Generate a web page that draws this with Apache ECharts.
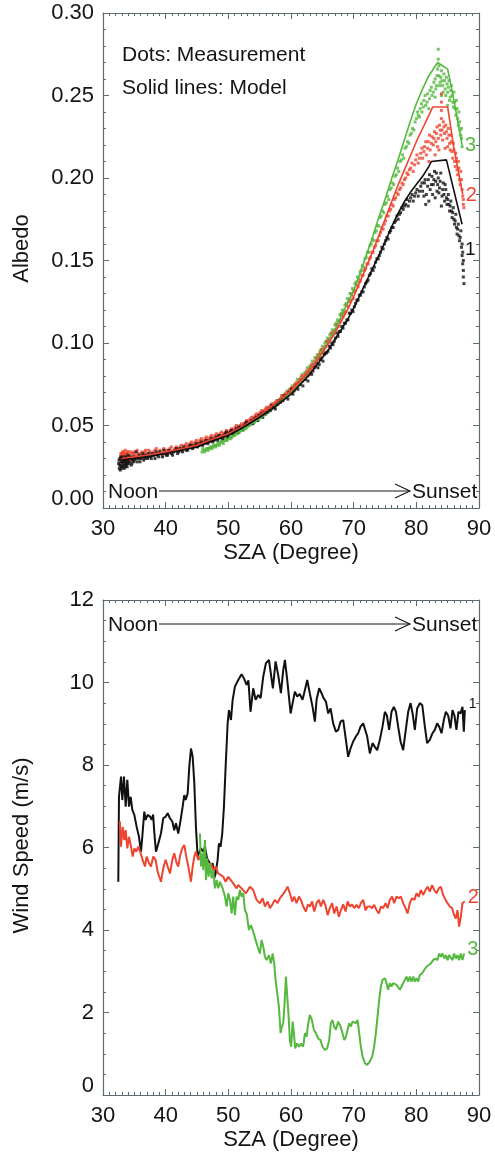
<!DOCTYPE html>
<html>
<head>
<meta charset="utf-8">
<script src="https://cdn.jsdelivr.net/npm/echarts@6/dist/echarts.min.js"></script>
<style>
  html, body { margin: 0; padding: 0; background: #ffffff; }
  #chart { width: 495px; height: 1160px; }
</style>
</head>
<body>
<div id="chart"></div>
<script>
// ---- Axis extents and tick steps ----
const SZA_MIN = 30, SZA_MAX = 90, SZA_STEP = 10;
const ALBEDO_MIN = 0, ALBEDO_MAX = 0.30, ALBEDO_STEP = 0.05;
const WIND_MIN = 0, WIND_MAX = 12, WIND_STEP = 2;

// ---- Text ----
const xTitle = 'SZA (Degree)';
const albedoTitle = 'Albedo';
const windTitle = 'Wind Speed (m/s)';
const noteDots = 'Dots: Measurement';
const noteLines = 'Solid lines: Model';
const dayStart = 'Noon';
const dayEnd = 'Sunset';
const siteNames = ['1', '2', '3'];

// ---- Albedo, measurement dots [SZA, albedo] ----
const albedoDots1 = [
  [32.5,0.027],[32.6,0.024],[32.7,0.030],[32.8,0.026],[32.9,0.028],[33.0,0.025],[33.1,0.031],[33.2,0.027],
  [33.3,0.029],[33.4,0.024],[33.5,0.028],[33.6,0.031],[33.7,0.026],[33.8,0.029],[33.9,0.027],[34.0,0.032],
  [34.2,0.028],[34.4,0.030],[34.6,0.027],[34.8,0.031],[35.0,0.029],[35.3,0.034],[35.6,0.030],[35.9,0.028],
  [36.2,0.031],[36.5,0.029],[36.8,0.032],[37.1,0.030],[37.5,0.031],[37.9,0.033],[38.3,0.030],[38.7,0.032],
  [39.1,0.034],[39.5,0.031],[39.9,0.033],[40.3,0.032],[40.7,0.034],[41.1,0.032],[41.5,0.035],[41.9,0.033],
  [42.3,0.036],[42.7,0.034],[43.1,0.036],[43.5,0.035],[43.9,0.038],[44.3,0.036],[44.7,0.038],[45.1,0.037],
  [45.5,0.039],[45.9,0.038],[46.3,0.040],[46.7,0.039],[47.1,0.041],[47.5,0.040],[47.9,0.042],[48.3,0.041],
  [48.7,0.043],[49.1,0.042],[49.5,0.045],[49.9,0.043],[50.3,0.046],[50.7,0.045],[51.1,0.047],[51.5,0.046],
  [51.9,0.049],[52.3,0.048],[52.7,0.051],[53.1,0.050],[53.5,0.052],[53.9,0.051],[54.3,0.054],[54.7,0.053],
  [55.1,0.056],[55.5,0.055],[55.9,0.057],[56.3,0.058],[56.7,0.059],[57.1,0.061],[57.5,0.060],[57.9,0.063],
  [58.3,0.064],[58.7,0.065],[59.1,0.067],[59.5,0.066],[59.9,0.070],[60.3,0.069],[60.7,0.073],[61.1,0.072],
  [61.5,0.075],[61.9,0.074],[62.3,0.078],[62.7,0.077],[63.1,0.082],[63.5,0.083],[63.9,0.086],[64.3,0.085],
  [64.7,0.090],[65.1,0.089],[65.5,0.094],[65.9,0.095],[66.3,0.097],[66.7,0.099],[67.1,0.103],[67.5,0.104],
  [67.9,0.107],[68.3,0.109],[68.7,0.112],[69.1,0.114],[69.5,0.118],[69.9,0.119],[70.3,0.124],[70.7,0.126],
  [71.1,0.129],[71.5,0.131],[71.9,0.136],[72.3,0.138],[72.7,0.142],[73.1,0.144],[73.5,0.149],[73.9,0.151],
  [74.3,0.155],[74.7,0.157],[75.1,0.162],[75.5,0.163],[75.9,0.168],[76.3,0.170],[76.7,0.174],[77.1,0.175],
  [77.5,0.179],[77.9,0.181],[78.3,0.184],[78.7,0.183],[79.1,0.188],[79.5,0.186],[79.9,0.191],[80.3,0.189],
  [80.7,0.195],[81.0,0.192],[81.3,0.197],[81.5,0.184],[81.6,0.190],[81.9,0.199],[82.0,0.186],[82.2,0.193],
  [82.5,0.201],[82.6,0.190],[82.7,0.196],[82.9,0.204],[83.0,0.188],[83.1,0.198],[83.3,0.192],[83.5,0.200],
  [83.7,0.194],[83.9,0.203],[84.0,0.183],[84.1,0.189],[84.3,0.197],[84.5,0.186],[84.7,0.193],[84.9,0.184],
  [85.1,0.190],[85.3,0.180],[85.5,0.186],[85.7,0.176],[85.9,0.182],[86.1,0.172],[86.3,0.178],[86.5,0.166],
  [86.7,0.172],[86.9,0.162],[87.1,0.168],[87.2,0.158],[87.3,0.153],[87.4,0.148],[87.5,0.144],[87.5,0.140],
  [87.6,0.136],
  [32.55,0.029],[32.65,0.026],[32.75,0.023],[32.85,0.031],[32.95,0.024],[33.05,0.028],[33.15,0.025],[33.25,0.030],
  [33.35,0.026],[33.45,0.029],[33.55,0.025],[33.65,0.027],[33.75,0.030],[33.85,0.025],[33.95,0.029],[34.1,0.027],
  [34.3,0.031],[34.5,0.026],[34.7,0.029],[34.9,0.028],[35.15,0.030],[35.45,0.028],[35.75,0.032],[36.05,0.030],
  [36.35,0.033],[36.65,0.030],[36.95,0.031],[37.3,0.033],[37.7,0.030],[38.1,0.032],[38.5,0.034],[38.9,0.031],
  [39.3,0.033],[39.7,0.035],[40.1,0.032],[40.5,0.035],[40.9,0.033],[41.3,0.034],[41.7,0.036],[42.1,0.034],
  [42.5,0.035],[42.9,0.037],[43.3,0.035],[43.7,0.037],[44.1,0.038],[44.5,0.037],[44.9,0.039],[45.3,0.038],
  [45.7,0.040],[46.1,0.039],[46.5,0.041],[46.9,0.040],[47.3,0.042],[47.7,0.041],[48.1,0.043],[48.5,0.044],
  [48.9,0.043],[49.3,0.044],[49.7,0.046],[50.1,0.045],[50.5,0.047],[50.9,0.046],[51.3,0.048],[51.7,0.049],
  [52.1,0.048],[52.5,0.050],[52.9,0.052],[53.3,0.051],[53.7,0.053],[54.1,0.054],[54.5,0.055],[54.9,0.056],
  [55.3,0.057],[55.7,0.058],[56.1,0.058],[56.5,0.060],[56.9,0.062],[57.3,0.061],[57.7,0.063],[58.1,0.065],
  [58.5,0.066],[58.9,0.068],[59.3,0.068],[59.7,0.070],[60.1,0.072],[60.5,0.071],[60.9,0.074],[61.3,0.075],
  [61.7,0.077],[62.1,0.078],[62.5,0.080],[62.9,0.082],[63.3,0.081],[63.7,0.085],[64.1,0.088],[64.5,0.087],
  [64.9,0.091],[65.3,0.093],[65.7,0.094],[66.1,0.098],[66.5,0.100],[66.9,0.101],[67.3,0.106],[67.7,0.107],
  [68.1,0.110],[68.5,0.112],[68.9,0.114],[69.3,0.118],[69.7,0.120],[70.1,0.122],[70.5,0.126],[70.9,0.129],
  [71.3,0.131],[71.7,0.134],[72.1,0.137],[72.5,0.141],[72.9,0.145],[73.3,0.146],[73.7,0.151],[74.1,0.153],
  [74.5,0.158],[74.9,0.160],[75.3,0.164],[75.7,0.167],[76.1,0.170],[76.5,0.173],[76.9,0.177],[77.3,0.178],
  [77.7,0.182],[78.1,0.183],[78.5,0.187],[78.9,0.186],[79.3,0.190],[79.7,0.189],[80.1,0.193],[80.5,0.192],
  [80.9,0.197],[81.2,0.189],[81.4,0.199],[81.8,0.195],[82.1,0.202],[82.4,0.196],[82.8,0.199],[83.2,0.203],
  [83.4,0.196],[83.6,0.191],[83.8,0.198],[84.2,0.193],[84.4,0.190],[84.6,0.196],[84.8,0.188],[85.0,0.187],
  [85.2,0.184],[85.4,0.183],[85.6,0.180],[85.8,0.179],[86.0,0.175],[86.2,0.174],[86.4,0.170],[86.6,0.169],
  [86.8,0.165],[87.0,0.164],[87.3,0.160],[87.4,0.155],[87.5,0.150]
];
const albedoDots2 = [
  [32.8,0.031],[32.9,0.028],[33.0,0.033],[33.1,0.030],[33.2,0.034],[33.3,0.029],[33.4,0.032],[33.5,0.030],
  [33.6,0.033],[33.7,0.028],[33.8,0.031],[33.9,0.034],[34.0,0.030],[34.2,0.032],[34.4,0.029],[34.6,0.033],
  [34.8,0.031],[35.0,0.034],[35.3,0.031],[35.6,0.033],[35.9,0.030],[36.2,0.034],[36.5,0.032],[36.8,0.035],
  [37.1,0.031],[37.5,0.034],[37.9,0.032],[38.3,0.035],[38.7,0.033],[39.1,0.035],[39.5,0.032],[39.9,0.034],
  [40.3,0.033],[40.7,0.036],[41.1,0.034],[41.5,0.036],[41.9,0.035],[42.3,0.037],[42.7,0.036],[43.1,0.038],
  [43.5,0.037],[43.9,0.039],[44.3,0.038],[44.7,0.040],[45.1,0.039],[45.5,0.041],[45.9,0.040],[46.3,0.042],
  [46.7,0.041],[47.1,0.043],[47.5,0.042],[47.9,0.044],[48.3,0.043],[48.7,0.045],[49.1,0.044],[49.5,0.046],
  [49.9,0.045],[50.3,0.047],[50.7,0.046],[51.1,0.049],[51.5,0.048],[51.9,0.050],[52.3,0.049],[52.7,0.052],
  [53.1,0.051],[53.5,0.054],[53.9,0.053],[54.3,0.056],[54.7,0.055],[55.1,0.058],[55.5,0.057],[55.9,0.060],
  [56.3,0.059],[56.7,0.062],[57.1,0.061],[57.5,0.064],[57.9,0.063],[58.3,0.066],[58.7,0.066],[59.1,0.069],
  [59.5,0.068],[59.9,0.072],[60.3,0.071],[60.7,0.075],[61.1,0.074],[61.5,0.078],[61.9,0.077],[62.3,0.081],
  [62.7,0.080],[63.1,0.085],[63.5,0.086],[63.9,0.089],[64.3,0.090],[64.7,0.094],[65.1,0.094],[65.5,0.098],
  [65.9,0.100],[66.3,0.103],[66.7,0.105],[67.1,0.108],[67.5,0.110],[67.9,0.114],[68.3,0.116],[68.7,0.119],
  [69.1,0.122],[69.5,0.126],[69.9,0.127],[70.3,0.132],[70.7,0.134],[71.1,0.138],[71.5,0.141],[71.9,0.145],
  [72.3,0.148],[72.7,0.152],[73.1,0.155],[73.5,0.159],[73.9,0.162],[74.3,0.167],[74.7,0.169],[75.1,0.174],
  [75.5,0.177],[75.9,0.181],[76.3,0.183],[76.7,0.188],[77.1,0.190],[77.5,0.194],[77.9,0.196],[78.3,0.200],
  [78.7,0.202],[79.1,0.206],[79.5,0.204],[79.9,0.211],[80.3,0.209],[80.7,0.215],[81.0,0.212],[81.3,0.219],
  [81.6,0.214],[81.9,0.222],[82.0,0.210],[82.2,0.217],[82.5,0.225],[82.7,0.220],[82.9,0.228],[83.0,0.214],
  [83.1,0.222],[83.3,0.231],[83.5,0.224],[83.6,0.217],[83.7,0.232],[83.9,0.226],[84.0,0.236],[84.0,0.241],
  [84.0,0.246],[84.0,0.251],[84.1,0.229],[84.3,0.234],[84.5,0.227],[84.6,0.218],[84.7,0.232],[84.9,0.224],
  [85.1,0.230],[85.3,0.221],[85.5,0.226],[85.7,0.216],[85.9,0.221],[86.1,0.210],[86.3,0.215],[86.5,0.205],
  [86.7,0.210],[86.9,0.199],[87.1,0.204],[87.3,0.193],[87.5,0.187],[87.6,0.182],
  [32.85,0.033],[32.95,0.030],[33.05,0.029],[33.15,0.034],[33.25,0.031],[33.35,0.033],[33.45,0.030],[33.55,0.035],
  [33.65,0.031],[33.75,0.033],[33.85,0.029],[33.95,0.032],[34.1,0.034],[34.3,0.031],[34.5,0.034],[34.7,0.030],
  [34.9,0.033],[35.15,0.032],[35.45,0.035],[35.75,0.031],[36.05,0.033],[36.35,0.031],[36.65,0.034],[36.95,0.033],
  [37.3,0.035],[37.7,0.033],[38.1,0.034],[38.5,0.036],[38.9,0.034],[39.3,0.033],[39.7,0.036],[40.1,0.035],
  [40.5,0.034],[40.9,0.037],[41.3,0.035],[41.7,0.037],[42.1,0.036],[42.5,0.038],[42.9,0.037],[43.3,0.039],
  [43.7,0.038],[44.1,0.040],[44.5,0.039],[44.9,0.041],[45.3,0.040],[45.7,0.042],[46.1,0.041],[46.5,0.043],
  [46.9,0.042],[47.3,0.044],[47.7,0.043],[48.1,0.045],[48.5,0.044],[48.9,0.046],[49.3,0.045],[49.7,0.047],
  [50.1,0.046],[50.5,0.048],[50.9,0.048],[51.3,0.050],[51.7,0.049],[52.1,0.051],[52.5,0.051],[52.9,0.053],
  [53.3,0.053],[53.7,0.055],[54.1,0.055],[54.5,0.057],[54.9,0.057],[55.3,0.059],[55.7,0.059],[56.1,0.061],
  [56.5,0.061],[56.9,0.063],[57.3,0.063],[57.7,0.065],[58.1,0.065],[58.5,0.068],[58.9,0.068],[59.3,0.070],
  [59.7,0.071],[60.1,0.073],[60.5,0.074],[60.9,0.076],[61.3,0.077],[61.7,0.080],[62.1,0.080],[62.5,0.083],
  [62.9,0.084],[63.3,0.087],[63.7,0.088],[64.1,0.091],[64.5,0.093],[64.9,0.096],[65.3,0.097],[65.7,0.101],
  [66.1,0.102],[66.5,0.106],[66.9,0.107],[67.3,0.111],[67.7,0.113],[68.1,0.117],[68.5,0.118],[68.9,0.123],
  [69.3,0.125],[69.7,0.129],[70.1,0.131],[70.5,0.135],[70.9,0.137],[71.3,0.141],[71.7,0.144],[72.1,0.148],
  [72.5,0.151],[72.9,0.155],[73.3,0.158],[73.7,0.162],[74.1,0.165],[74.5,0.170],[74.9,0.172],[75.3,0.177],
  [75.7,0.180],[76.1,0.184],[76.5,0.187],[76.9,0.191],[77.3,0.193],[77.7,0.197],[78.1,0.199],[78.5,0.203],
  [78.9,0.205],[79.3,0.209],[79.7,0.208],[80.1,0.214],[80.5,0.212],[80.9,0.218],[81.2,0.216],[81.5,0.222],
  [81.8,0.218],[82.1,0.226],[82.4,0.221],[82.8,0.224],[83.2,0.227],[83.4,0.219],[83.8,0.229],[84.2,0.223],
  [84.4,0.231],[84.8,0.228],[85.0,0.219],[85.2,0.226],[85.4,0.217],[85.6,0.222],[85.8,0.212],[86.0,0.217],
  [86.2,0.207],[86.4,0.212],[86.6,0.202],[86.8,0.206],[87.0,0.196],[87.2,0.199],[87.4,0.189],[87.5,0.184]
];
const albedoDots3 = [
  [45.8,0.034],[46.1,0.035],[46.4,0.035],[46.7,0.036],[47.0,0.036],[47.3,0.037],[47.6,0.037],[47.9,0.038],
  [48.2,0.038],[48.5,0.039],[48.8,0.040],[49.1,0.040],[49.4,0.041],[49.7,0.041],[50.0,0.042],[50.3,0.043],
  [50.6,0.043],[50.9,0.044],[51.2,0.045],[51.5,0.045],[51.8,0.046],[52.1,0.047],[52.4,0.047],[52.7,0.049],
  [53.0,0.049],[53.3,0.050],[53.6,0.051],[53.9,0.052],[54.2,0.052],[54.5,0.054],[54.8,0.054],[55.1,0.055],
  [55.4,0.055],[55.7,0.057],[56.0,0.057],[56.4,0.059],[56.8,0.060],[57.2,0.062],[57.6,0.062],[58.0,0.064],
  [58.4,0.065],[58.8,0.067],[59.2,0.067],[59.6,0.070],[60.0,0.071],[60.4,0.072],[60.8,0.075],[61.2,0.076],
  [61.6,0.079],[62.0,0.079],[62.4,0.082],[62.8,0.083],[63.2,0.086],[63.6,0.087],[64.0,0.091],[64.4,0.092],
  [64.8,0.096],[65.2,0.096],[65.6,0.101],[66.0,0.102],[66.4,0.106],[66.8,0.107],[67.2,0.112],[67.6,0.113],
  [68.0,0.118],[68.4,0.119],[68.8,0.124],[69.2,0.126],[69.6,0.130],[70.0,0.132],[70.4,0.137],[70.8,0.139],
  [71.2,0.144],[71.6,0.146],[72.0,0.152],[72.4,0.155],[72.8,0.160],[73.2,0.162],[73.6,0.168],[74.0,0.171],
  [74.4,0.177],[74.8,0.179],[75.2,0.185],[75.6,0.187],[76.0,0.194],[76.4,0.196],[76.8,0.202],[77.2,0.204],
  [77.6,0.211],[78.0,0.212],[78.4,0.219],[78.8,0.221],[79.2,0.227],[79.6,0.229],[80.0,0.236],[80.3,0.238],
  [80.6,0.242],[80.9,0.240],[81.2,0.247],[81.5,0.244],[81.8,0.251],[82.0,0.242],[82.1,0.248],[82.4,0.255],
  [82.7,0.252],[83.0,0.260],[83.0,0.249],[83.2,0.256],[83.4,0.266],[83.5,0.272],[83.5,0.278],[83.6,0.262],
  [83.8,0.258],[84.0,0.265],[84.0,0.250],[84.2,0.256],[84.4,0.263],[84.6,0.254],[84.8,0.261],[85.0,0.252],
  [85.0,0.244],[85.2,0.259],[85.4,0.249],[85.6,0.256],[85.8,0.246],[86.0,0.252],[86.2,0.242],[86.4,0.247],
  [86.6,0.236],[86.8,0.240],[87.0,0.229],[87.2,0.224],[87.3,0.219],
  [45.9,0.036],[46.2,0.034],[46.5,0.036],[46.8,0.035],[47.1,0.037],[47.4,0.036],[47.7,0.038],[48.0,0.037],
  [48.3,0.039],[48.6,0.038],[48.9,0.041],[49.2,0.039],[49.5,0.042],[49.8,0.041],[50.1,0.043],[50.4,0.042],
  [50.7,0.044],[51.0,0.044],[51.3,0.046],[51.6,0.046],[51.9,0.047],[52.2,0.048],[52.5,0.049],[52.8,0.048],
  [53.1,0.050],[53.4,0.051],[53.7,0.052],[54.0,0.053],[54.3,0.054],[54.6,0.053],[54.9,0.056],[55.2,0.056],
  [55.5,0.058],[55.8,0.058],[56.2,0.060],[56.6,0.061],[57.0,0.063],[57.4,0.063],[57.8,0.065],[58.2,0.066],
  [58.6,0.068],[59.0,0.069],[59.4,0.071],[59.8,0.072],[60.2,0.074],[60.6,0.075],[61.0,0.078],[61.4,0.078],
  [61.8,0.081],[62.2,0.082],[62.6,0.085],[63.0,0.086],[63.4,0.089],[63.8,0.091],[64.2,0.093],[64.6,0.095],
  [65.0,0.098],[65.4,0.100],[65.8,0.103],[66.2,0.105],[66.6,0.108],[67.0,0.111],[67.4,0.114],[67.8,0.117],
  [68.2,0.120],[68.6,0.123],[69.0,0.127],[69.4,0.130],[69.8,0.133],[70.2,0.136],[70.6,0.140],[71.0,0.143],
  [71.4,0.147],[71.8,0.151],[72.2,0.155],[72.6,0.159],[73.0,0.163],[73.4,0.167],[73.8,0.171],[74.2,0.176],
  [74.6,0.180],[75.0,0.184],[75.4,0.189],[75.8,0.193],[76.2,0.197],[76.6,0.201],[77.0,0.206],[77.4,0.210],
  [77.8,0.214],[78.2,0.218],[78.6,0.222],[79.0,0.226],[79.4,0.230],[79.8,0.234],[80.2,0.240],[80.5,0.237],
  [80.8,0.245],[81.1,0.243],[81.4,0.250],[81.7,0.246],[82.2,0.253],[82.5,0.250],[82.8,0.258],[83.1,0.254],
  [83.3,0.262],[83.6,0.268],[83.7,0.256],[83.9,0.261],[84.1,0.259],[84.3,0.252],[84.5,0.259],[84.7,0.250],
  [84.9,0.257],[85.1,0.255],[85.3,0.247],[85.5,0.253],[85.7,0.250],[85.9,0.243],[86.1,0.246],[86.3,0.238],
  [86.5,0.242],[86.7,0.232],[86.9,0.234],[87.1,0.226],[87.2,0.230]
];

// ---- Albedo, model curves [SZA, albedo] ----
const albedoModel1 = [
  [33,0.029],[35,0.030],[37,0.031],[40,0.033],[42,0.0345],[45,0.037],[47,0.040],[50,0.044],[52,0.048],
  [55,0.055],[57,0.060],[60,0.069],[62,0.077],[63,0.081],[65,0.091],[66,0.096],[67,0.102],[68,0.108],
  [69,0.114],[70,0.121],[71,0.129],[72,0.137],[73,0.145],[74,0.153],[75,0.161],[76,0.170],[77,0.178],
  [78,0.185],[79,0.191],[80,0.196],[81,0.201],[82,0.207],[82.4,0.210],[84.8,0.211],[87.3,0.172]
];
const albedoModel2 = [
  [33,0.030],[35,0.031],[37,0.032],[40,0.034],[42,0.0355],[45,0.038],[47,0.041],[50,0.045],[52,0.049],
  [55,0.056],[57,0.062],[60,0.071],[62,0.079],[63,0.083],[65,0.094],[66,0.100],[67,0.106],[68,0.113],
  [69,0.120],[70,0.128],[71,0.137],[72,0.146],[73,0.155],[74,0.165],[75,0.175],[76,0.185],[77,0.195],
  [78,0.204],[79,0.213],[80,0.222],[81,0.230],[82,0.238],[82.6,0.243],[85.0,0.243],[86.0,0.218],[87.4,0.190]
];
const albedoModel3 = [
  [46,0.035],[48,0.038],[50,0.042],[52,0.047],[55,0.054],[57,0.060],[60,0.070],[62,0.078],[63,0.083],
  [65,0.095],[66,0.101],[67,0.108],[68,0.116],[69,0.124],[70,0.132],[71,0.142],[72,0.153],[73,0.164],
  [74,0.176],[75,0.187],[76,0.199],[77,0.210],[78,0.222],[79,0.234],[80,0.245],[81,0.254],[82,0.262],
  [83.4,0.270],[85.0,0.266],[86.0,0.247],[87.3,0.220]
];

// ---- Wind speed [SZA, m/s] ----
const wind1 = [
  [32.44,5.17],[32.55,7.23],[32.87,7.72],[33.08,7.15],[33.35,7.72],[33.62,6.99],[33.88,7.64],[34.15,6.99],
  [34.42,7.23],[34.68,6.91],[35.0,6.79],[35.37,6.50],[35.74,6.26],[36.06,5.90],[36.27,6.26],[36.59,6.87],
  [36.8,6.67],[37.12,6.79],[37.5,6.75],[37.76,6.67],[38.0,6.80],[38.18,6.38],[38.45,5.90],[38.83,6.10],
  [39.25,6.34],[39.62,6.71],[40.0,6.75],[40.32,6.83],[40.69,6.71],[41.06,6.63],[41.37,6.42],[41.64,6.59],
  [42.01,6.34],[42.39,6.67],[42.71,6.99],[42.97,7.27],[43.19,7.15],[43.51,7.31],[43.77,7.96],[44.04,8.40],
  [44.31,8.20],[44.57,7.56],[44.83,6.50],[45.1,5.78],[45.31,5.86],[45.63,5.98],[46.0,5.90],[46.27,6.02],
  [46.59,5.74],[46.91,5.66],[47.22,5.54],[47.5,5.62],[47.75,5.25],[47.97,5.37],[48.29,5.70],[48.5,6.10],
  [48.77,6.02],[49.03,6.34],[49.3,6.99],[49.57,7.96],[49.89,9.01],[50.1,9.33],[50.42,9.09],[50.69,9.58],
  [51.05,9.90],[51.58,10.06],[52.11,10.20],[52.49,10.10],[52.92,9.94],[53.2,10.05],[53.54,9.29],[53.97,9.86],
  [54.35,9.58],[54.77,9.70],[55.15,9.62],[55.57,10.14],[56.0,10.47],[56.48,10.55],[56.8,10.20],[57.11,9.86],
  [57.54,10.51],[57.96,10.18],[58.39,9.74],[58.76,10.30],[59.03,10.55],[59.4,10.06],[59.94,9.25],[60.36,9.58],
  [60.62,9.78],[61.0,9.66],[61.4,9.72],[61.84,9.58],[62.22,9.82],[62.59,10.06],[63.0,9.74],[63.44,9.41],
  [63.81,9.05],[64.08,9.58],[64.5,9.86],[64.88,9.74],[65.2,9.62],[65.57,9.54],[65.94,9.25],[66.32,9.37],
  [66.73,9.01],[67.16,8.81],[67.53,8.85],[67.9,9.05],[68.33,9.09],[68.76,8.61],[69.12,8.20],[69.5,8.40],
  [69.92,8.57],[70.35,8.69],[70.72,8.77],[71.1,8.93],[71.52,9.01],[71.8,9.05],[72.16,8.69],[72.58,8.28],
  [73.01,8.53],[73.38,8.44],[73.75,8.36],[74.18,8.61],[74.6,8.93],[74.98,9.29],[75.3,9.20],[75.66,8.85],
  [76.04,9.29],[76.41,9.41],[76.75,9.29],[77.1,8.93],[77.48,8.57],[77.9,8.36],[78.28,8.81],[78.7,9.29],
  [79.08,9.50],[79.4,9.25],[79.76,8.85],[80.13,9.37],[80.56,9.50],[80.95,9.45],[81.36,8.93],[81.72,8.53],
  [82.15,8.61],[82.58,8.77],[82.95,8.85],[83.32,9.01],[83.64,8.93],[84.02,8.77],[84.39,9.09],[84.71,9.29],
  [85.08,9.20],[85.45,8.89],[85.77,9.33],[86.08,9.20],[86.4,8.85],[86.72,9.29],[87.04,9.25],[87.36,9.41],
  [87.58,8.81],[87.74,9.33]
];
const wind2 = [
  [32.7,6.63],[32.87,6.02],[33.14,6.50],[33.4,6.18],[33.62,6.42],[33.88,5.98],[34.15,6.26],[34.47,6.02],
  [34.74,5.78],[35.0,5.98],[35.31,5.90],[35.63,6.02],[36.01,5.86],[36.33,5.70],[36.7,5.54],[36.97,5.78],
  [37.34,5.62],[37.66,5.54],[38.02,5.78],[38.4,5.70],[38.72,5.41],[38.98,5.29],[39.25,5.17],[39.62,5.50],
  [40.0,5.70],[40.32,5.54],[40.69,5.37],[41.06,5.70],[41.37,5.86],[41.75,5.62],[42.01,5.54],[42.33,5.82],
  [42.65,5.98],[42.97,6.06],[43.29,5.78],[43.61,5.54],[44.04,5.17],[44.31,5.54],[44.57,5.78],[44.83,5.90],
  [45.2,5.70],[45.58,5.78],[45.84,5.62],[46.16,5.70],[46.54,5.58],[46.91,5.54],[47.22,5.62],[47.59,5.45],
  [47.97,5.54],[48.39,5.37],[48.82,5.33],[49.19,5.29],[49.57,5.17],[49.98,5.29],[50.4,5.21],[50.78,5.13],
  [51.32,5.01],[51.58,5.09],[52.11,5.01],[52.38,5.05],[52.8,4.89],[53.44,5.05],[53.97,4.97],[54.51,4.73],
  [55.04,4.65],[55.47,4.77],[55.84,4.57],[56.27,4.69],[56.63,4.53],[57.0,4.61],[57.43,4.73],[57.86,4.65],
  [58.23,4.77],[58.66,4.85],[59.03,4.93],[59.46,5.05],[59.82,4.89],[60.19,4.69],[60.51,4.81],[60.89,4.65],
  [61.26,4.81],[61.58,4.73],[61.95,4.57],[62.38,4.45],[62.7,4.62],[63.01,4.57],[63.38,4.69],[63.7,4.45],
  [64.08,4.65],[64.45,4.73],[64.77,4.57],[65.14,4.73],[65.5,4.60],[65.84,4.36],[66.2,4.53],[66.57,4.65],
  [66.89,4.40],[67.27,4.57],[67.64,4.32],[67.96,4.48],[68.33,4.62],[68.71,4.45],[69.03,4.69],[69.39,4.57],
  [69.75,4.62],[70.08,4.53],[70.46,4.61],[70.83,4.53],[71.15,4.65],[71.52,4.73],[71.9,4.48],[72.22,4.57],
  [72.6,4.57],[72.95,4.53],[73.27,4.61],[73.65,4.48],[74.02,4.40],[74.34,4.57],[74.71,4.53],[75.09,4.65],
  [75.41,4.53],[75.77,4.73],[76.14,4.81],[76.46,4.65],[76.84,4.81],[77.2,4.77],[77.53,4.81],[77.9,4.65],
  [78.28,4.53],[78.6,4.40],[78.96,4.65],[79.33,4.77],[79.7,4.73],[80.03,4.89],[80.4,4.81],[80.72,4.97],
  [81.08,4.85],[81.47,4.97],[81.79,5.05],[82.15,4.93],[82.52,5.09],[82.84,4.97],[83.22,4.89],[83.59,5.01],
  [83.91,5.05],[84.28,4.85],[84.66,4.73],[84.98,4.65],[85.34,4.57],[85.71,4.53],[86.03,4.36],[86.3,4.28],
  [86.57,4.48],[86.83,4.08],[87.1,4.32],[87.36,4.65],[87.74,4.69]
];
const wind3 = [
  [45.47,6.34],[45.63,5.54],[45.84,5.86],[46.0,5.45],[46.27,6.18],[46.43,5.21],[46.64,5.74],[46.85,5.29],
  [47.07,5.62],[47.34,5.25],[47.59,5.45],[47.86,5.01],[48.13,5.21],[48.39,5.01],[48.66,5.17],[49.09,5.01],
  [49.46,4.81],[49.73,4.57],[49.98,4.89],[50.26,4.73],[50.53,4.40],[50.78,4.81],[51.05,4.36],[51.32,4.81],
  [51.58,4.73],[51.85,4.97],[52.11,4.81],[52.38,4.89],[52.65,4.48],[52.92,4.40],[53.29,4.00],[53.6,4.12],
  [53.97,3.96],[54.35,3.76],[54.67,3.60],[55.04,3.43],[55.31,3.76],[55.57,3.60],[55.84,3.35],[56.11,3.27],
  [56.48,3.39],[56.8,3.19],[57.07,3.43],[57.32,3.19],[57.54,2.79],[57.8,2.75],[58.07,2.14],[58.34,1.50],
  [58.55,1.66],[58.76,1.74],[58.98,2.22],[59.19,2.87],[59.4,2.39],[59.62,1.90],[59.82,1.33],[60.03,1.17],
  [60.26,1.78],[60.46,1.50],[60.67,1.13],[60.99,1.25],[61.31,1.17],[61.63,1.25],[61.95,1.17],[62.22,1.50],
  [62.49,1.41],[62.75,1.74],[63.01,1.94],[63.33,1.82],[63.65,1.58],[63.97,1.50],[64.34,1.37],[64.71,1.33],
  [65.03,1.17],[65.4,1.09],[65.77,1.13],[66.09,1.33],[66.36,1.74],[66.62,1.82],[66.89,1.66],[67.16,1.58],
  [67.53,1.78],[67.9,1.66],[68.22,1.50],[68.49,1.33],[68.76,1.41],[69.03,1.58],[69.29,1.74],[69.55,1.66],
  [69.82,1.78],[70.08,1.82],[70.35,1.74],[70.62,1.82],[70.88,1.50],[71.15,1.17],[71.42,0.93],[71.79,0.77],
  [72.15,0.73],[72.58,0.81],[72.95,0.93],[73.27,1.17],[73.54,1.50],[73.81,1.90],[74.07,2.30],[74.34,2.63],
  [74.6,2.79],[74.98,2.83],[75.25,2.71],[75.5,2.55],[75.77,2.71],[76.04,2.63],[76.3,2.71],[76.57,2.75],
  [76.84,2.67],[77.1,2.71],[77.37,2.55],[77.64,2.63],[77.9,2.71],[78.17,2.79],[78.44,2.87],[78.7,2.75],
  [78.96,2.87],[79.23,2.75],[79.5,2.87],[79.76,2.75],[80.03,2.83],[80.3,2.75],[80.56,2.91],[80.93,2.95],
  [81.25,3.03],[81.63,3.11],[81.99,3.15],[82.31,3.19],[82.68,3.27],[83.06,3.31],[83.38,3.27],[83.64,3.43],
  [83.91,3.35],[84.18,3.43],[84.44,3.31],[84.71,3.39],[84.98,3.27],[85.23,3.39],[85.5,3.35],[85.77,3.27],
  [86.03,3.43],[86.3,3.31],[86.57,3.39],[86.83,3.27],[87.1,3.43],[87.36,3.27],[87.63,3.43]
];

// ---- Styling ----
const FONT = '"Liberation Sans", Arial, Helvetica, sans-serif';
const TEXT = '#141414';
const AXIS = '#5d6a70';
const COLORS = ['#111111', '#ef4430', '#55b83f'];

function xAxes(grid) {
  const base = {
    type: 'value', gridIndex: grid, min: SZA_MIN, max: SZA_MAX, interval: SZA_STEP,
    axisLine: { show: true, onZero: false, lineStyle: { color: AXIS, width: 1.2 } },
    axisTick: { show: true, inside: true, length: 6, lineStyle: { color: AXIS, width: 1 } },
    minorTick: { show: true, splitNumber: 10, length: 3, lineStyle: { color: AXIS, width: 1 } },
    splitLine: { show: false }, minorSplitLine: { show: false }
  };
  return [
    Object.assign({}, base, {
      position: 'bottom',
      name: xTitle, nameLocation: 'middle', nameGap: 34,
      nameTextStyle: { fontSize: 22, color: TEXT, fontFamily: FONT },
      axisLabel: { show: true, fontSize: 22, color: TEXT, fontFamily: FONT, margin: 10 }
    }),
    Object.assign({}, base, { position: 'top', axisLabel: { show: false } })
  ];
}

function yAxes(grid, min, max, step, minor, digits, title, namePad) {
  const fmt = v => v.toFixed(digits);
  const base = {
    type: 'value', gridIndex: grid, min: min, max: max, interval: step,
    axisLine: { show: true, onZero: false, lineStyle: { color: AXIS, width: 1.2 } },
    axisTick: { show: true, inside: true, length: 6, lineStyle: { color: AXIS, width: 1 } },
    minorTick: { show: true, splitNumber: minor, length: 3, lineStyle: { color: AXIS, width: 1 } },
    splitLine: { show: false }, minorSplitLine: { show: false }
  };
  return [
    Object.assign({}, base, {
      position: 'left',
      name: title, nameLocation: 'middle', nameGap: 70, nameRotate: 90,
      nameTextStyle: { fontSize: 22, color: TEXT, fontFamily: FONT, padding: namePad },
      axisLabel: {
        show: true, fontSize: 22, color: TEXT, fontFamily: FONT, margin: 9,
        // the bottom label sits just above the corner so it clears the x labels
        formatter: v => (Math.abs(v - min) < 1e-9 ? '{lo|' + fmt(v) + '}' : fmt(v)),
        rich: { lo: { fontSize: 22, color: TEXT, fontFamily: FONT, padding: [0, 0, 18, 0] } }
      }
    }),
    Object.assign({}, base, { position: 'right', axisLabel: { show: false } })
  ];
}

function dots(data, color, z) {
  return {
    type: 'scatter', xAxisIndex: 0, yAxisIndex: 0, data: data,
    symbol: 'rect', symbolSize: 3, itemStyle: { color: color }, silent: true, z: z
  };
}

function curve(data, color, xi, yi, width, name, label) {
  return {
    type: 'line', xAxisIndex: xi, yAxisIndex: yi, data: data, name: name,
    symbol: 'none', showSymbol: false, silent: true, z: 5,
    lineStyle: { color: color, width: width },
    endLabel: Object.assign({
      show: true, formatter: name, color: color, fontFamily: FONT, fontSize: 20, distance: 3
    }, label)
  };
}

const chart = echarts.init(document.getElementById('chart'), null, { renderer: 'canvas' });

const topArrowY = 491, bottomArrowY = 624;
function dayArrow(y) {
  return [
    { type: 'text', x: 108, y: y + 1, style: { text: dayStart, fontSize: 21, fontFamily: FONT, fill: TEXT, verticalAlign: 'middle', align: 'left' } },
    { type: 'line', shape: { x1: 159, y1: y, x2: 410, y2: y }, style: { stroke: TEXT, lineWidth: 1 } },
    { type: 'polyline', shape: { points: [[395, y - 7], [410, y], [395, y + 7]] }, style: { stroke: TEXT, fill: null, lineWidth: 1.1 } },
    { type: 'text', x: 412, y: y + 1, style: { text: dayEnd, fontSize: 21, fontFamily: FONT, fill: TEXT, verticalAlign: 'middle', align: 'left' } }
  ];
}

chart.setOption({
  animation: false,
  backgroundColor: '#ffffff',
  textStyle: { fontFamily: FONT },
  grid: [
    { left: 103, top: 13, width: 376, height: 495 },
    { left: 103, top: 600, width: 376, height: 495 }
  ],
  xAxis: xAxes(0).concat(xAxes(1)),
  yAxis: yAxes(0, ALBEDO_MIN, ALBEDO_MAX, ALBEDO_STEP, 5, 2, albedoTitle, [0, 0, 0, 24])
    .concat(yAxes(1, WIND_MIN, WIND_MAX, WIND_STEP, 4, 0, windTitle, [0, 0, 0, 4])),
  series: [
    dots(albedoDots3, COLORS[2], 2),
    dots(albedoDots2, COLORS[1], 3),
    dots(albedoDots1, COLORS[0], 4),
    curve(albedoModel3, COLORS[2], 0, 0, 1.6, siteNames[2], { offset: [0, 0] }),
    curve(albedoModel2, COLORS[1], 0, 0, 1.6, siteNames[1], { offset: [0, 1] }),
    curve(albedoModel1, COLORS[0], 0, 0, 1.6, siteNames[0], { offset: [0, 26], fontSize: 19 }),
    curve(wind1, COLORS[0], 2, 2, 2, siteNames[0], { offset: [0, -6], fontSize: 14, distance: 4 }),
    curve(wind2, COLORS[1], 2, 2, 2, siteNames[1], { offset: [0, -4] }),
    curve(wind3, COLORS[2], 2, 2, 2, siteNames[2], { offset: [0, -4] })
  ],
  graphic: [
    { type: 'text', x: 122, y: 55, style: { text: noteDots, fontSize: 21, fontFamily: FONT, fill: TEXT, verticalAlign: 'middle' } },
    { type: 'text', x: 122, y: 88, style: { text: noteLines, fontSize: 21, fontFamily: FONT, fill: TEXT, verticalAlign: 'middle' } }
  ].concat(dayArrow(topArrowY), dayArrow(bottomArrowY))
});
</script>
</body>
</html>
